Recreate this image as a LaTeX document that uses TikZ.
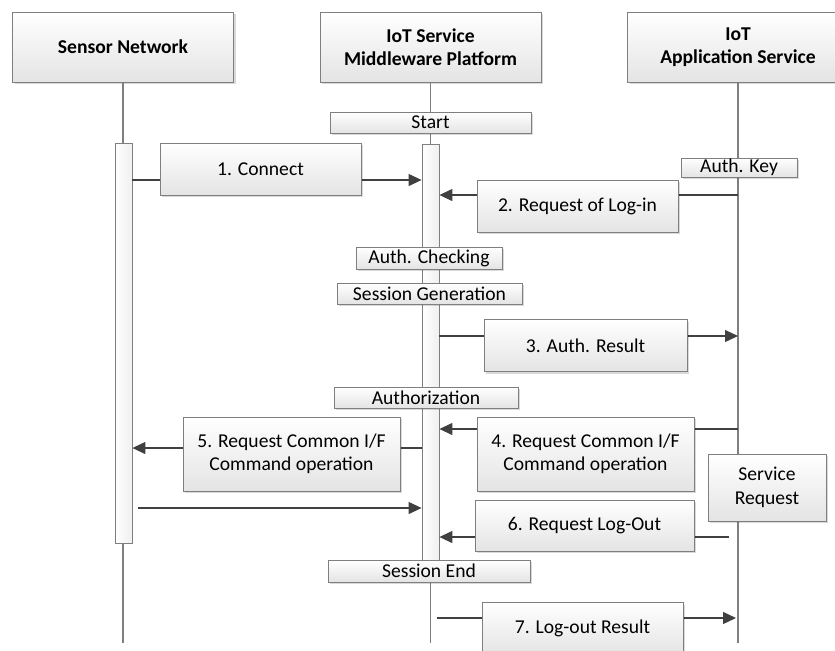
\documentclass[tikz,border=0pt]{standalone}
\usepackage{fontspec}
\setmainfont{Carlito}
\usetikzlibrary{arrows.meta, shadows, positioning}

\definecolor{boxline}{HTML}{7F7F7F}
\definecolor{boxfill}{HTML}{E4E4E4}
\definecolor{arrowcol}{HTML}{404040}

\begin{document}
\begin{tikzpicture}[x=0.5pt, y=-0.5pt, >={Triangle[length=6.5pt, width=6pt]},
    font=\fontsize{9.8}{11.7}\selectfont,
    box/.style={rectangle, draw=boxline, top color=white, bottom color=boxfill, inner sep=0pt, align=center,
        drop shadow={shadow xshift=1pt, shadow yshift=-1pt, fill=black, opacity=0.15}},
    head/.style={box, minimum width=110.5pt, minimum height=35pt, font=\fontsize{9.8}{11.7}\selectfont\bfseries},
    msg/.style={box, minimum width=100.5pt, minimum height=26pt},
    tag/.style={box, minimum height=10.5pt},
    bar/.style={rectangle, draw=boxline, left color=white, right color=gray!12, minimum width=8.5pt, inner sep=0pt},
    life/.style={draw=boxline, line width=0.6pt},
    msgline/.style={draw=arrowcol, line width=0.6pt}]

    \useasboundingbox (0,0) rectangle (835,650);
    \clip (0,0) rectangle (835,650);

    % Actors
    \node[head] (hSN) at (123,47) {Sensor Network};
    \node[head] (hMW) at (430.5,47) {IoT Service\\Middleware Platform};
    \node[head] (hAS) at (738,47) {IoT\\Application Service};

    \coordinate (bot) at (0,643);

    % Draw lifelines
    \draw[life] (hSN.south) -- (hSN |- bot);
    \draw[life] (hMW.south) -- (hMW |- bot);
    \draw[life] (hAS.south) -- (hAS |- bot);

    % Activation bars
    \node[bar, minimum height=200pt] (aSN) at (123.5,343) {};
    \node[bar, minimum height=208pt] (aMW) at (430.5,352) {};

    % Rows of the messages
    \coordinate (r1) at (0,180);
    \coordinate (r2) at (0,195);
    \coordinate (r3) at (0,336);
    \coordinate (r4) at (0,429);
    \coordinate (r5) at (0,448);
    \coordinate (r5b) at (0,508);
    \coordinate (r6) at (0,537);
    \coordinate (r7) at (0,618);

    % Draw message arrows
    \draw[msgline, ->] (aSN.east |- r1) -- (aMW.west |- r1);
    \draw[msgline, ->] (hAS |- r2) -- (aMW.east |- r2);
    \draw[msgline, ->] (aMW.east |- r3) -- (hAS |- r3);
    \draw[msgline, ->] (hAS |- r4) -- (aMW.east |- r4);
    \draw[msgline, ->] (aMW.west |- r5) -- (aSN.east |- r5);
    \draw[msgline, ->] ([xshift=3pt]aSN.east |- r5b) -- (aMW.west |- r5b);
    \draw[msgline, ->] ([xshift=-4.5pt]hAS |- r6) -- (aMW.east |- r6);
    \draw[msgline, ->] ([xshift=3pt]hMW |- r7) -- ([xshift=-1pt]hAS |- r7);

    % Message labels
    \node[msg] (m1) at (260.5,169) {1. Connect};
    \node[msg] (m2) at (577.5,206) {2. Request of Log-in};
    \node[msg, minimum width=101.5pt] (m3) at (585.5,345.5) {3. Auth. Result};
    \node[msg, minimum width=108.5pt, minimum height=37pt] (m4) at (585.5,454) {4. Request Common I/F\\Command operation};
    \node[msg, minimum width=108.5pt, minimum height=37pt] (m5) at (291.5,454) {5. Request Common I/F\\Command operation};
    \node[msg, minimum width=109.5pt, minimum height=25.5pt] (m6) at (584.5,525.5) {6. Request Log-Out};
    \node[msg] (m7) at (582.5,628.5) {7. Log-out Result};

    % States on the lifelines
    \node[tag, minimum width=100.5pt] (start) at (430.5,122.5) {Start};
    \node[tag, minimum width=58pt, minimum height=9.5pt] (key) at (739,167.5) {Auth. Key};
    \node[tag, minimum width=73pt, minimum height=11pt] (check) at (429,258) {Auth. Checking};
    \node[tag, minimum width=92.5pt] (sgen) at (429.5,293.5) {Session Generation};
    \node[tag, minimum width=92pt] (authz) at (426,397.5) {Authorization};
    \node[tag, minimum width=59pt, minimum height=33.5pt] (sreq) at (767,487.5) {Service\\Request};
    \node[tag, minimum width=101pt, minimum height=11pt] (send) at (429,571) {Session End};

\end{tikzpicture}
\end{document}
